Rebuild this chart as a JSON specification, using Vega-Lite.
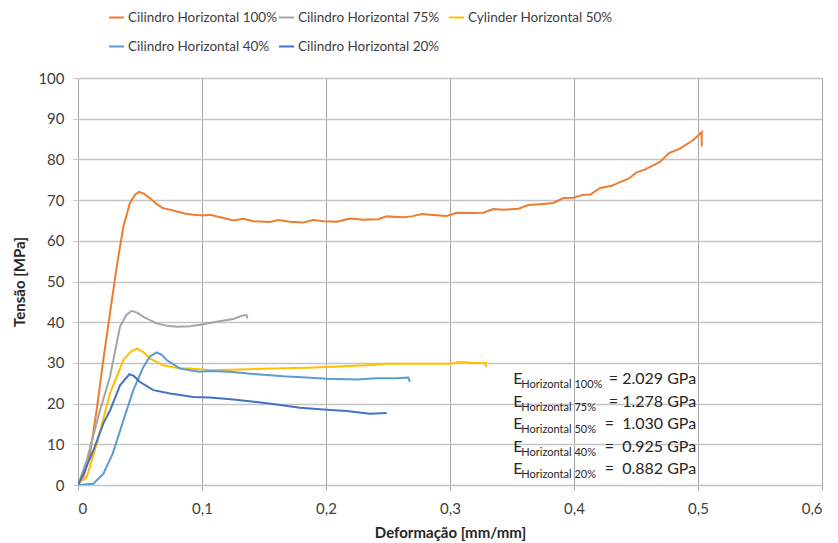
{
  "$schema": "https://vega.github.io/schema/vega-lite/v6.json",
  "width": 744,
  "height": 407,
  "autosize": {"type": "none"},
  "padding": {"left": 78, "top": 78, "right": 16, "bottom": 58},
  "background": "white",
  "config": {
    "font": "Lato",
    "view": {"stroke": null},
    "axis": {"labelFont": "Lato", "titleFont": "Lato"},
    "legend": {"labelFont": "Lato"}
  },
  "datasets": {
    "curves": [
      {"s": "Cilindro Horizontal 100%", "i": 0, "x": 0, "y": 0},
      {"s": "Cilindro Horizontal 100%", "i": 1, "x": 0.005, "y": 2.5},
      {"s": "Cilindro Horizontal 100%", "i": 2, "x": 0.0097, "y": 7.7},
      {"s": "Cilindro Horizontal 100%", "i": 3, "x": 0.015, "y": 18.3},
      {"s": "Cilindro Horizontal 100%", "i": 4, "x": 0.0204, "y": 30.7},
      {"s": "Cilindro Horizontal 100%", "i": 5, "x": 0.0258, "y": 42.2},
      {"s": "Cilindro Horizontal 100%", "i": 6, "x": 0.0312, "y": 53.6},
      {"s": "Cilindro Horizontal 100%", "i": 7, "x": 0.0366, "y": 63.5},
      {"s": "Cilindro Horizontal 100%", "i": 8, "x": 0.0419, "y": 69.3},
      {"s": "Cilindro Horizontal 100%", "i": 9, "x": 0.046, "y": 71.3},
      {"s": "Cilindro Horizontal 100%", "i": 10, "x": 0.0492, "y": 72.0},
      {"s": "Cilindro Horizontal 100%", "i": 11, "x": 0.053, "y": 71.6},
      {"s": "Cilindro Horizontal 100%", "i": 12, "x": 0.058, "y": 70.5},
      {"s": "Cilindro Horizontal 100%", "i": 13, "x": 0.0635, "y": 69.0},
      {"s": "Cilindro Horizontal 100%", "i": 14, "x": 0.0688, "y": 68.0},
      {"s": "Cilindro Horizontal 100%", "i": 15, "x": 0.075, "y": 67.6},
      {"s": "Cilindro Horizontal 100%", "i": 16, "x": 0.0796, "y": 67.2},
      {"s": "Cilindro Horizontal 100%", "i": 17, "x": 0.086, "y": 66.7},
      {"s": "Cilindro Horizontal 100%", "i": 18, "x": 0.093, "y": 66.4},
      {"s": "Cilindro Horizontal 100%", "i": 19, "x": 0.101, "y": 66.2},
      {"s": "Cilindro Horizontal 100%", "i": 20, "x": 0.1065, "y": 66.4},
      {"s": "Cilindro Horizontal 100%", "i": 21, "x": 0.1172, "y": 65.6},
      {"s": "Cilindro Horizontal 100%", "i": 22, "x": 0.1253, "y": 65.0},
      {"s": "Cilindro Horizontal 100%", "i": 23, "x": 0.1333, "y": 65.4},
      {"s": "Cilindro Horizontal 100%", "i": 24, "x": 0.1414, "y": 64.8},
      {"s": "Cilindro Horizontal 100%", "i": 25, "x": 0.1548, "y": 64.6},
      {"s": "Cilindro Horizontal 100%", "i": 26, "x": 0.1616, "y": 65.1},
      {"s": "Cilindro Horizontal 100%", "i": 27, "x": 0.171, "y": 64.7},
      {"s": "Cilindro Horizontal 100%", "i": 28, "x": 0.1817, "y": 64.5},
      {"s": "Cilindro Horizontal 100%", "i": 29, "x": 0.1898, "y": 65.1},
      {"s": "Cilindro Horizontal 100%", "i": 30, "x": 0.1979, "y": 64.8},
      {"s": "Cilindro Horizontal 100%", "i": 31, "x": 0.2086, "y": 64.7},
      {"s": "Cilindro Horizontal 100%", "i": 32, "x": 0.2194, "y": 65.5},
      {"s": "Cilindro Horizontal 100%", "i": 33, "x": 0.23, "y": 65.2},
      {"s": "Cilindro Horizontal 100%", "i": 34, "x": 0.2422, "y": 65.3},
      {"s": "Cilindro Horizontal 100%", "i": 35, "x": 0.249, "y": 66.0},
      {"s": "Cilindro Horizontal 100%", "i": 36, "x": 0.2624, "y": 65.8},
      {"s": "Cilindro Horizontal 100%", "i": 37, "x": 0.269, "y": 66.0},
      {"s": "Cilindro Horizontal 100%", "i": 38, "x": 0.2772, "y": 66.6},
      {"s": "Cilindro Horizontal 100%", "i": 39, "x": 0.2839, "y": 66.4},
      {"s": "Cilindro Horizontal 100%", "i": 40, "x": 0.2973, "y": 66.1},
      {"s": "Cilindro Horizontal 100%", "i": 41, "x": 0.3054, "y": 66.9},
      {"s": "Cilindro Horizontal 100%", "i": 42, "x": 0.3188, "y": 66.8},
      {"s": "Cilindro Horizontal 100%", "i": 43, "x": 0.3269, "y": 66.9},
      {"s": "Cilindro Horizontal 100%", "i": 44, "x": 0.3349, "y": 67.8},
      {"s": "Cilindro Horizontal 100%", "i": 45, "x": 0.343, "y": 67.6},
      {"s": "Cilindro Horizontal 100%", "i": 46, "x": 0.3551, "y": 67.9},
      {"s": "Cilindro Horizontal 100%", "i": 47, "x": 0.3632, "y": 68.8},
      {"s": "Cilindro Horizontal 100%", "i": 48, "x": 0.3726, "y": 69.0},
      {"s": "Cilindro Horizontal 100%", "i": 49, "x": 0.3833, "y": 69.3},
      {"s": "Cilindro Horizontal 100%", "i": 50, "x": 0.3914, "y": 70.5},
      {"s": "Cilindro Horizontal 100%", "i": 51, "x": 0.3994, "y": 70.6},
      {"s": "Cilindro Horizontal 100%", "i": 52, "x": 0.4075, "y": 71.3},
      {"s": "Cilindro Horizontal 100%", "i": 53, "x": 0.4129, "y": 71.3},
      {"s": "Cilindro Horizontal 100%", "i": 54, "x": 0.421, "y": 73.0},
      {"s": "Cilindro Horizontal 100%", "i": 55, "x": 0.4304, "y": 73.5},
      {"s": "Cilindro Horizontal 100%", "i": 56, "x": 0.4384, "y": 74.6},
      {"s": "Cilindro Horizontal 100%", "i": 57, "x": 0.4438, "y": 75.2},
      {"s": "Cilindro Horizontal 100%", "i": 58, "x": 0.4505, "y": 76.8},
      {"s": "Cilindro Horizontal 100%", "i": 59, "x": 0.457, "y": 77.5},
      {"s": "Cilindro Horizontal 100%", "i": 60, "x": 0.469, "y": 79.3},
      {"s": "Cilindro Horizontal 100%", "i": 61, "x": 0.477, "y": 81.6},
      {"s": "Cilindro Horizontal 100%", "i": 62, "x": 0.485, "y": 82.6},
      {"s": "Cilindro Horizontal 100%", "i": 63, "x": 0.496, "y": 84.7},
      {"s": "Cilindro Horizontal 100%", "i": 64, "x": 0.501, "y": 86.1},
      {"s": "Cilindro Horizontal 100%", "i": 65, "x": 0.503, "y": 86.7},
      {"s": "Cilindro Horizontal 100%", "i": 66, "x": 0.503, "y": 83.2},

      {"s": "Cilindro Horizontal 75%", "i": 0, "x": 0, "y": 0},
      {"s": "Cilindro Horizontal 75%", "i": 1, "x": 0.007, "y": 6.0},
      {"s": "Cilindro Horizontal 75%", "i": 2, "x": 0.0177, "y": 18.3},
      {"s": "Cilindro Horizontal 75%", "i": 3, "x": 0.0258, "y": 26.6},
      {"s": "Cilindro Horizontal 75%", "i": 4, "x": 0.0339, "y": 38.9},
      {"s": "Cilindro Horizontal 75%", "i": 5, "x": 0.039, "y": 41.8},
      {"s": "Cilindro Horizontal 75%", "i": 6, "x": 0.0433, "y": 42.8},
      {"s": "Cilindro Horizontal 75%", "i": 7, "x": 0.048, "y": 42.3},
      {"s": "Cilindro Horizontal 75%", "i": 8, "x": 0.0527, "y": 41.3},
      {"s": "Cilindro Horizontal 75%", "i": 9, "x": 0.0634, "y": 39.7},
      {"s": "Cilindro Horizontal 75%", "i": 10, "x": 0.072, "y": 39.1},
      {"s": "Cilindro Horizontal 75%", "i": 11, "x": 0.0796, "y": 38.9},
      {"s": "Cilindro Horizontal 75%", "i": 12, "x": 0.0903, "y": 39.0},
      {"s": "Cilindro Horizontal 75%", "i": 13, "x": 0.101, "y": 39.5},
      {"s": "Cilindro Horizontal 75%", "i": 14, "x": 0.1118, "y": 40.1},
      {"s": "Cilindro Horizontal 75%", "i": 15, "x": 0.1253, "y": 40.8},
      {"s": "Cilindro Horizontal 75%", "i": 16, "x": 0.1333, "y": 41.7},
      {"s": "Cilindro Horizontal 75%", "i": 17, "x": 0.136, "y": 41.7},
      {"s": "Cilindro Horizontal 75%", "i": 18, "x": 0.1366, "y": 40.9},

      {"s": "Cylinder Horizontal 50%", "i": 0, "x": 0, "y": 0},
      {"s": "Cylinder Horizontal 50%", "i": 1, "x": 0.0013, "y": 0.7},
      {"s": "Cylinder Horizontal 50%", "i": 2, "x": 0.007, "y": 1.9},
      {"s": "Cylinder Horizontal 50%", "i": 3, "x": 0.0151, "y": 10.1},
      {"s": "Cylinder Horizontal 50%", "i": 4, "x": 0.0258, "y": 22.5},
      {"s": "Cylinder Horizontal 50%", "i": 5, "x": 0.0366, "y": 30.7},
      {"s": "Cylinder Horizontal 50%", "i": 6, "x": 0.0425, "y": 32.8},
      {"s": "Cylinder Horizontal 50%", "i": 7, "x": 0.0479, "y": 33.5},
      {"s": "Cylinder Horizontal 50%", "i": 8, "x": 0.053, "y": 32.6},
      {"s": "Cylinder Horizontal 50%", "i": 9, "x": 0.058, "y": 31.1},
      {"s": "Cylinder Horizontal 50%", "i": 10, "x": 0.0688, "y": 29.4},
      {"s": "Cylinder Horizontal 50%", "i": 11, "x": 0.0823, "y": 28.6},
      {"s": "Cylinder Horizontal 50%", "i": 12, "x": 0.0903, "y": 28.6},
      {"s": "Cylinder Horizontal 50%", "i": 13, "x": 0.101, "y": 28.4},
      {"s": "Cylinder Horizontal 50%", "i": 14, "x": 0.1065, "y": 28.2},
      {"s": "Cylinder Horizontal 50%", "i": 15, "x": 0.1306, "y": 28.4},
      {"s": "Cylinder Horizontal 50%", "i": 16, "x": 0.1575, "y": 28.6},
      {"s": "Cylinder Horizontal 50%", "i": 17, "x": 0.1844, "y": 28.8},
      {"s": "Cylinder Horizontal 50%", "i": 18, "x": 0.2005, "y": 29.0},
      {"s": "Cylinder Horizontal 50%", "i": 19, "x": 0.2328, "y": 29.4},
      {"s": "Cylinder Horizontal 50%", "i": 20, "x": 0.249, "y": 29.8},
      {"s": "Cylinder Horizontal 50%", "i": 21, "x": 0.2785, "y": 29.8},
      {"s": "Cylinder Horizontal 50%", "i": 22, "x": 0.3, "y": 29.8},
      {"s": "Cylinder Horizontal 50%", "i": 23, "x": 0.308, "y": 30.2},
      {"s": "Cylinder Horizontal 50%", "i": 24, "x": 0.32, "y": 30.0},
      {"s": "Cylinder Horizontal 50%", "i": 25, "x": 0.329, "y": 30.0},
      {"s": "Cylinder Horizontal 50%", "i": 26, "x": 0.329, "y": 29.0},

      {"s": "Cilindro Horizontal 40%", "i": 0, "x": 0, "y": 0},
      {"s": "Cilindro Horizontal 40%", "i": 1, "x": 0.0124, "y": 0.3},
      {"s": "Cilindro Horizontal 40%", "i": 2, "x": 0.0204, "y": 2.7},
      {"s": "Cilindro Horizontal 40%", "i": 3, "x": 0.028, "y": 7.7},
      {"s": "Cilindro Horizontal 40%", "i": 4, "x": 0.0366, "y": 15.9},
      {"s": "Cilindro Horizontal 40%", "i": 5, "x": 0.0446, "y": 23.3},
      {"s": "Cilindro Horizontal 40%", "i": 6, "x": 0.0527, "y": 29.0},
      {"s": "Cilindro Horizontal 40%", "i": 7, "x": 0.058, "y": 31.6},
      {"s": "Cilindro Horizontal 40%", "i": 8, "x": 0.0634, "y": 32.6},
      {"s": "Cilindro Horizontal 40%", "i": 9, "x": 0.0675, "y": 32.0},
      {"s": "Cilindro Horizontal 40%", "i": 10, "x": 0.0715, "y": 30.7},
      {"s": "Cilindro Horizontal 40%", "i": 11, "x": 0.0823, "y": 28.6},
      {"s": "Cilindro Horizontal 40%", "i": 12, "x": 0.0903, "y": 28.2},
      {"s": "Cilindro Horizontal 40%", "i": 13, "x": 0.098, "y": 27.8},
      {"s": "Cilindro Horizontal 40%", "i": 14, "x": 0.1065, "y": 28.0},
      {"s": "Cilindro Horizontal 40%", "i": 15, "x": 0.1226, "y": 27.8},
      {"s": "Cilindro Horizontal 40%", "i": 16, "x": 0.1441, "y": 27.2},
      {"s": "Cilindro Horizontal 40%", "i": 17, "x": 0.1656, "y": 26.7},
      {"s": "Cilindro Horizontal 40%", "i": 18, "x": 0.1844, "y": 26.4},
      {"s": "Cilindro Horizontal 40%", "i": 19, "x": 0.2005, "y": 26.1},
      {"s": "Cilindro Horizontal 40%", "i": 20, "x": 0.2247, "y": 25.9},
      {"s": "Cilindro Horizontal 40%", "i": 21, "x": 0.2409, "y": 26.2},
      {"s": "Cilindro Horizontal 40%", "i": 22, "x": 0.257, "y": 26.2},
      {"s": "Cilindro Horizontal 40%", "i": 23, "x": 0.2664, "y": 26.4},
      {"s": "Cilindro Horizontal 40%", "i": 24, "x": 0.2677, "y": 25.3},

      {"s": "Cilindro Horizontal 20%", "i": 0, "x": 0, "y": 0},
      {"s": "Cilindro Horizontal 20%", "i": 1, "x": 0.0043, "y": 2.7},
      {"s": "Cilindro Horizontal 20%", "i": 2, "x": 0.0124, "y": 8.5},
      {"s": "Cilindro Horizontal 20%", "i": 3, "x": 0.0204, "y": 15.1},
      {"s": "Cilindro Horizontal 20%", "i": 4, "x": 0.0258, "y": 18.3},
      {"s": "Cilindro Horizontal 20%", "i": 5, "x": 0.0339, "y": 24.5},
      {"s": "Cilindro Horizontal 20%", "i": 6, "x": 0.0414, "y": 27.2},
      {"s": "Cilindro Horizontal 20%", "i": 7, "x": 0.045, "y": 26.8},
      {"s": "Cilindro Horizontal 20%", "i": 8, "x": 0.05, "y": 25.3},
      {"s": "Cilindro Horizontal 20%", "i": 9, "x": 0.0608, "y": 23.3},
      {"s": "Cilindro Horizontal 20%", "i": 10, "x": 0.0742, "y": 22.5},
      {"s": "Cilindro Horizontal 20%", "i": 11, "x": 0.093, "y": 21.6},
      {"s": "Cilindro Horizontal 20%", "i": 12, "x": 0.1065, "y": 21.5},
      {"s": "Cilindro Horizontal 20%", "i": 13, "x": 0.1253, "y": 21.0},
      {"s": "Cilindro Horizontal 20%", "i": 14, "x": 0.1441, "y": 20.4},
      {"s": "Cilindro Horizontal 20%", "i": 15, "x": 0.1602, "y": 19.8},
      {"s": "Cilindro Horizontal 20%", "i": 16, "x": 0.179, "y": 19.0},
      {"s": "Cilindro Horizontal 20%", "i": 17, "x": 0.2005, "y": 18.5},
      {"s": "Cilindro Horizontal 20%", "i": 18, "x": 0.2167, "y": 18.2},
      {"s": "Cilindro Horizontal 20%", "i": 19, "x": 0.2355, "y": 17.5},
      {"s": "Cilindro Horizontal 20%", "i": 20, "x": 0.249, "y": 17.7}
    ]
  },
  "layer": [
    {
      "data": {"name": "curves"},
      "mark": {"type": "line", "strokeWidth": 2, "clip": true},
      "encoding": {
        "x": {
          "field": "x", "type": "quantitative",
          "scale": {"domain": [0, 0.6], "nice": false, "zero": false},
          "axis": {
            "values": [0, 0.1, 0.2, 0.3, 0.4, 0.5, 0.6],
            "labelExpr": "datum.value == 0 ? '0' : replace(format(datum.value, '.1f'), '.', ',')",
            "title": "Deformação [mm/mm]",
            "titleFontSize": 15, "titleFontWeight": "bold", "titleColor": "#262626", "titlePadding": 9,
            "labelFontSize": 15, "labelColor": "#404040", "labelPadding": 11,
            "grid": true, "gridColor": "#a6a6a6", "gridWidth": 1,
            "domain": false, "ticks": true, "tickColor": "#a6a6a6", "tickSize": 5
          }
        },
        "y": {
          "field": "y", "type": "quantitative",
          "scale": {"domain": [0, 100], "nice": false},
          "axis": {
            "values": [0, 10, 20, 30, 40, 50, 60, 70, 80, 90, 100],
            "title": "Tensão [MPa]",
            "titleFontSize": 15, "titleFontWeight": "bold", "titleColor": "#262626", "titlePadding": 10,
            "labelFontSize": 15, "labelColor": "#404040", "labelPadding": 9,
            "grid": true, "gridColor": "#c4c4c4", "gridWidth": 1.6,
            "domain": false, "ticks": true, "tickColor": "#c4c4c4", "tickSize": 5
          }
        },
        "color": {
          "field": "s", "type": "nominal",
          "scale": {
            "domain": ["Cilindro Horizontal 100%", "Cilindro Horizontal 75%", "Cylinder Horizontal 50%", "Cilindro Horizontal 40%", "Cilindro Horizontal 20%"],
            "range": ["#ED7D31", "#A5A5A5", "#FFC000", "#5B9BD5", "#4472C4"]
          },
          "legend": {
            "title": null,
            "orient": "none",
            "legendX": 30,
            "legendY": -69,
            "columns": 3,
            "direction": "horizontal",
            "gridAlign": "all",
            "padding": 0,
            "rowPadding": 14,
            "columnPadding": -20,
            "labelFontSize": 13.5,
            "labelColor": "#404040",
            "labelOffset": 3,
            "symbolType": "stroke",
            "symbolSize": 225,
            "symbolStrokeWidth": 2,
            "labelLimit": 300
          }
        },
        "order": {"field": "i", "type": "quantitative"}
      }
    },
    {
      "data": {"values": [{}]},
      "mark": {"type": "text", "align": "left", "baseline": "top", "fontSize": 16, "lineHeight": 22.4, "color": "#262626", "font": "Lato"},
      "encoding": {
        "x": {"datum": 0.351, "type": "quantitative"},
        "y": {"datum": 27.9, "type": "quantitative"},
        "text": {"value": ["E", "E", "E", "E", "E"]}
      }
    },
    {
      "data": {"values": [{}]},
      "mark": {"type": "text", "align": "left", "baseline": "top", "fontSize": 11, "lineHeight": 22.4, "dy": 8, "dx": 0, "color": "#262626", "font": "Lato"},
      "encoding": {
        "x": {"datum": 0.3575, "type": "quantitative"},
        "y": {"datum": 27.9, "type": "quantitative"},
        "text": {"value": ["Horizontal 100%", "Horizontal 75%", "Horizontal 50%", "Horizontal 40%", "Horizontal 20%"]}
      }
    },
    {
      "data": {"values": [{}]},
      "mark": {"type": "text", "align": "right", "baseline": "top", "fontSize": 16, "lineHeight": 22.4, "color": "#262626", "font": "Lato"},
      "encoding": {
        "x": {"datum": 0.4985, "type": "quantitative"},
        "y": {"datum": 27.9, "type": "quantitative"},
        "text": {"value": ["= 2.029 GPa", "= 1.278 GPa", "=\u00a0 1.030 GPa", "=\u00a0 0.925 GPa", "=\u00a0 0.882 GPa"]}
      }
    }
  ]
}
